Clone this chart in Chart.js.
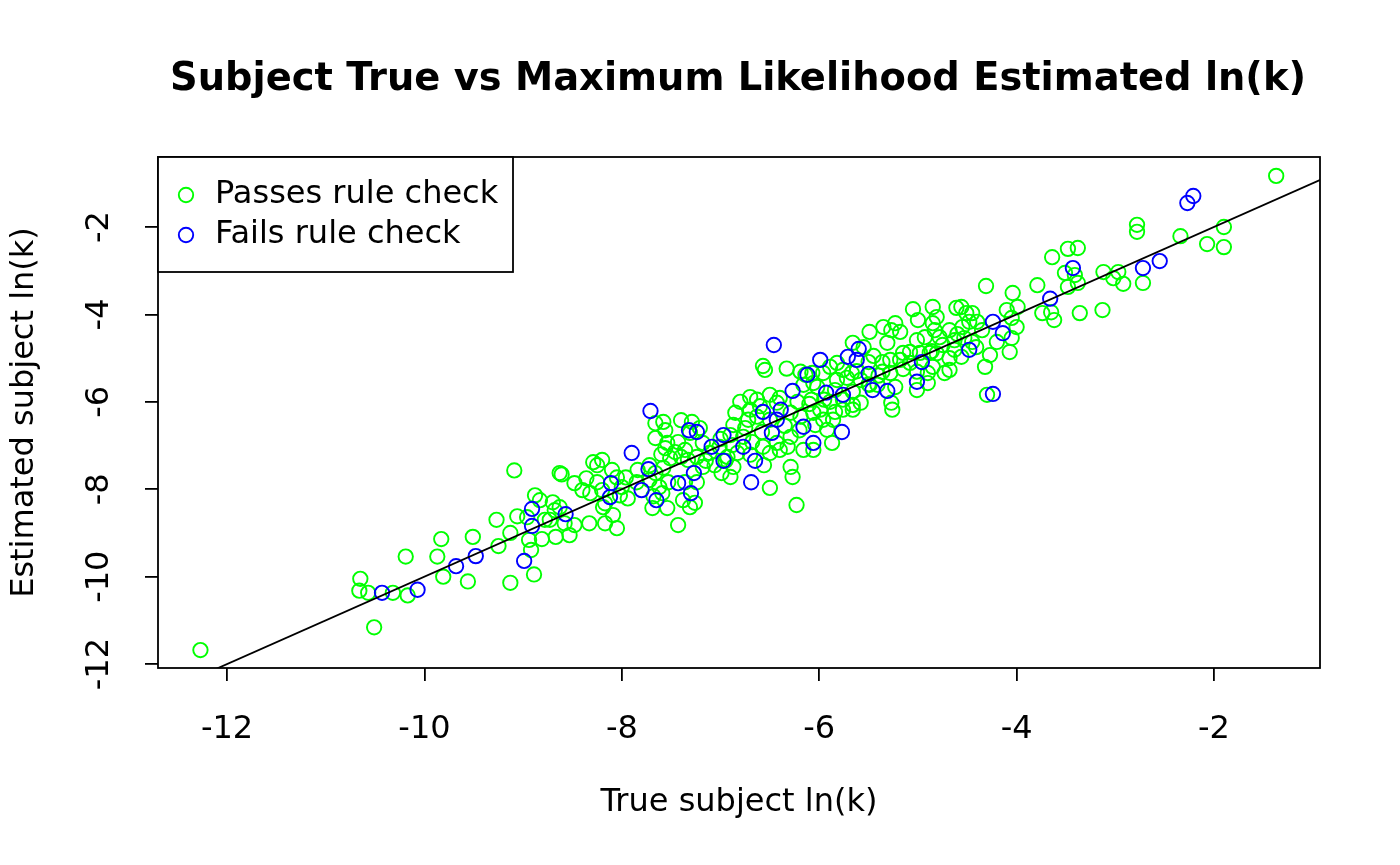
<!DOCTYPE html>
<html>
<head>
<meta charset="utf-8">
<script src="https://cdn.jsdelivr.net/npm/chart.js@4.4.1/dist/chart.umd.min.js"></script>
<style>
  body { margin: 0; background: #fff; }
  canvas { display: block; }
</style>
</head>
<body>
<canvas id="mlChart" width="1400" height="865"></canvas>
<script>
// values (true ln(k) vs estimated ln(k))
const passX = [
  -12.27, -10.65, -10.66, -10.57, -10.51, -10.32, -10.17, -10.19,
  -9.87, -9.83, -9.81, -9.56, -9.51, -9.25, -9.27, -9.13, -9.13, -9.09, -9.06, -8.96, -8.94, -8.92,
  -8.89, -8.88, -8.83, -8.81, -8.78, -8.70, -8.67, -8.63, -8.68, -8.73,
  -7.66, -7.58, -7.56, -7.40, -7.29, -7.31, -7.66, -7.54, -7.56, -7.43, -7.46, -7.36, -7.51, -7.40,
  -7.33, -7.72, -7.84, -7.66, -7.58, -8.20, -8.29, -8.25, -8.10, -7.96, -8.61, -8.48, -8.36, -8.25,
  -8.05, -7.85, -7.72, -7.62, -7.53, -7.36, -7.24, -8.32, -8.40, -8.20, -8.17, -8.02, -7.94, -7.68,
  -7.59, -7.69, -7.54, -7.38, -7.31, -8.63, -8.58, -8.48, -8.33, -8.17, -8.05, -8.09, -8.19, -7.43, -8.53,
  -6.55, -6.14, -6.33, -6.06, -6.16, -6.80, -6.70, -6.63, -6.50, -6.40, -6.43, -6.22, -6.08, -6.70,
  -6.63, -6.72, -6.50, -6.29, -6.19, -6.06, -6.04, -6.58, -6.87, -6.90, -6.77, -6.68, -6.57, -6.43,
  -6.29, -6.32, -6.16, -7.21, -7.18, -7.11, -7.01, -6.88, -6.83, -6.93, -7.06, -6.87, -6.70, -6.50,
  -6.40, -7.24, -7.18, -6.99, -6.90, -6.29, -6.27, -6.50, -7.26, -6.23, -6.56, -6.57, -6.19,
  -5.49, -5.35, -5.27, -5.18, -5.31, -5.01, -4.93, -4.85, -5.08, -5.15, -4.98, -4.88, -5.08, -5.18,
  -5.28, -5.36, -5.66, -5.55, -5.50, -5.82, -5.89, -6.07, -5.96, -5.76, -5.67, -5.36, -5.28, -5.01,
  -4.90, -4.90, -5.82, -5.72, -5.58, -5.41, -5.49, -5.01, -5.23, -6.02, -5.84, -5.66, -5.89, -5.76,
  -5.66, -5.58, -5.27, -5.26, -5.99, -5.84, -5.76, -5.66, -5.96, -5.86, -5.92, -5.87, -6.06,
  -5.05, -5.00, -5.23,
  -4.31, -3.79, -4.04, -3.74, -3.65, -3.62, -3.99, -4.10, -4.05, -4.00, -4.05, -4.20, -4.07, -4.27,
  -4.32, -4.85, -4.81, -4.61, -4.56, -4.51, -4.45, -4.48, -4.40, -4.35, -4.55, -4.68, -4.83, -4.78,
  -4.63, -4.53, -4.45, -4.41, -4.63, -4.56, -4.68, -4.81, -4.85, -4.73, -4.68, -4.86, -4.30,
  -2.78, -2.78, -2.34, -3.48, -3.38, -3.64, -3.51, -3.41, -3.48, -3.38, -3.12, -2.97, -3.02, -2.92,
  -2.72, -3.36, -3.13,
  -1.37, -1.90, -2.07, -1.90,
  // extra points in the crowded middle of the cloud
  -6.60, -6.35, -6.85, -6.20, -5.50, -5.40, -5.15, -4.75, -7.00, -7.15, -5.95, -5.62, -6.10, -4.60,
  -5.45, -6.75, -6.95, -7.60, -8.00
];
const passY = [
  -11.68, -10.05, -10.32, -10.37, -11.16, -10.37, -10.43, -9.54,
  -9.54, -9.14, -10.00, -10.11, -9.09, -9.30, -8.70, -9.00, -10.14, -7.57, -8.62, -8.64, -9.16, -9.39,
  -9.95, -8.14, -8.25, -9.14, -8.70, -8.30, -9.09, -7.63, -8.48, -8.70,
  -6.49, -6.46, -6.65, -6.42, -6.46, -6.71, -6.83, -6.94, -7.06, -6.92, -7.15, -7.10, -7.29, -7.26,
  -7.33, -7.45, -7.56, -7.63, -7.51, -7.33, -7.38, -7.45, -7.56, -7.73, -7.66, -7.86, -7.75, -7.84,
  -7.73, -7.84, -7.79, -7.95, -7.84, -7.84, -7.84, -8.09, -8.02, -8.02, -8.32, -8.14, -8.21, -8.16,
  -8.09, -8.43, -8.43, -8.25, -8.41, -8.41, -8.78, -8.82, -8.78, -8.78, -8.89, -8.59, -8.41, -8.82, -9.05,
  -5.27, -5.38, -5.24, -5.57, -5.61, -6.00, -5.89, -5.95, -5.84, -5.91, -6.02, -6.00, -5.95, -6.18,
  -6.34, -6.41, -6.41, -6.25, -6.34, -6.25, -6.53, -6.69, -6.53, -6.76, -6.80, -6.92, -7.03, -6.94,
  -6.80, -7.03, -7.10, -6.60, -6.94, -7.17, -7.03, -6.99, -7.17, -7.26, -7.45, -7.49, -7.21, -7.17,
  -7.10, -7.26, -7.49, -7.63, -7.72, -7.49, -7.72, -7.97, -8.31, -8.36, -7.45, -5.18, -5.31,
  -4.40, -4.29, -4.36, -4.40, -4.65, -4.59, -4.52, -4.20, -4.86, -4.88, -4.88, -4.88, -5.11, -5.04,
  -5.04, -5.09, -4.65, -4.75, -5.09, -5.11, -5.20, -5.34, -5.34, -5.27, -5.34, -5.31, -5.34, -5.31,
  -5.34, -5.57, -5.50, -5.45, -5.50, -5.61, -5.61, -5.73, -5.66, -5.66, -5.73, -5.77, -6.00, -5.95,
  -6.07, -6.02, -6.02, -6.18, -6.18, -6.23, -6.18, -6.18, -6.41, -6.41, -6.64, -6.94, -7.10,
  -3.88, -4.13, -4.20,
  -3.35, -3.33, -3.51, -3.97, -3.95, -4.13, -3.83, -3.90, -4.08, -4.29, -4.54, -4.63, -4.86, -4.93,
  -5.20, -3.83, -4.06, -3.85, -3.83, -3.97, -3.97, -4.17, -4.17, -4.36, -4.29, -4.36, -4.36, -4.52,
  -4.59, -4.54, -4.63, -4.75, -4.81, -4.97, -5.00, -4.89, -5.20, -5.34, -5.27, -4.84, -5.84,
  -1.95, -2.11, -2.21, -2.50, -2.48, -2.69, -3.05, -3.10, -3.37, -3.28, -3.03, -3.03, -3.17, -3.30,
  -3.28, -3.97, -3.90,
  -0.83, -2.00, -2.39, -2.46,
  -6.10, -6.55, -6.25, -6.65, -5.60, -5.40, -5.25, -4.70, -6.85, -7.35, -5.95, -5.30, -6.05, -4.45,
  -4.95, -6.60, -7.35, -7.20, -7.95
];
const failX = [
  -10.43, -10.07, -9.68, -9.48, -8.99, -8.91, -8.91,
  -7.71, -7.32, -7.24, -7.09, -7.90, -7.73, -7.27, -8.11, -7.80, -7.43, -7.30, -8.12, -7.65, -8.57,
  -6.46, -6.12, -6.27, -6.57, -6.39, -6.43, -6.16, -6.48, -6.97, -6.77, -6.06, -6.97, -6.65, -6.69,
  -5.99, -4.96, -5.60, -5.71, -5.62, -5.50, -5.01, -5.46, -5.31, -5.93, -5.76, -5.77,
  -3.66, -4.24, -4.14, -4.48, -4.24, -3.43, -2.72, -2.55, -2.21, -2.27
];
const failY = [
  -10.37, -10.30, -9.76, -9.53, -9.64, -8.45, -8.84,
  -6.21, -6.65, -6.69, -7.03, -7.17, -7.54, -7.63, -7.86, -8.02, -7.86, -8.09, -8.18, -8.25, -8.57,
  -4.70, -5.38, -5.75, -6.23, -6.18, -6.41, -6.57, -6.71, -6.76, -7.03, -6.94, -7.35, -7.35, -7.84,
  -5.04, -5.09, -4.79, -4.97, -5.04, -5.36, -5.54, -5.73, -5.75, -5.79, -5.84, -6.69,
  -3.64, -4.17, -4.43, -4.81, -5.82, -2.94, -2.94, -2.78, -1.29, -1.45
];
const tickValues = [-12, -10, -8, -6, -4, -2];
const xRange = [-12.70, -0.926];
const yRange = [-12.09, -0.398];
const identityLine = [-13, 0];   // y = x reference line

const FONT = '"DejaVu Sans", "Liberation Sans", sans-serif';
const GREEN = '#00ff00';
const BLUE = '#0000ff';
const PT_R = 7.2;
const PT_W = 1.9;

const decor = {
  id: 'decor',
  afterDraw(chart) {
    const { ctx, chartArea: a, scales } = chart;
    ctx.save();
    ctx.fillStyle = '#000';
    ctx.strokeStyle = '#000';

    // plot box
    ctx.lineWidth = 1.8;
    ctx.strokeRect(a.left, a.top, a.right - a.left, a.bottom - a.top);

    // rotated y tick labels
    ctx.font = '32px ' + FONT;
    ctx.textAlign = 'center';
    ctx.textBaseline = 'middle';
    tickValues.forEach(v => {
      ctx.save();
      ctx.translate(100, scales.y.getPixelForValue(v));
      ctx.rotate(-Math.PI / 2);
      ctx.fillText(String(v), 0, 0);
      ctx.restore();
    });

    // axis titles
    ctx.fillText('True subject ln(k)', (a.left + a.right) / 2, 803);
    ctx.save();
    ctx.translate(25, (a.top + a.bottom) / 2);
    ctx.rotate(-Math.PI / 2);
    ctx.fillText('Estimated subject ln(k)', 0, 0);
    ctx.restore();

    // main title
    ctx.font = 'bold 38.4px ' + FONT;
    ctx.fillText('Subject True vs Maximum Likelihood Estimated ln(k)', 738, 80);

    // legend box
    const lx = a.left, ly = a.top, lw = 355, lh = 115;
    ctx.fillStyle = '#fff';
    ctx.fillRect(lx, ly, lw, lh);
    ctx.lineWidth = 1.8;
    ctx.strokeStyle = '#000';
    ctx.strokeRect(lx, ly, lw, lh);
    const items = [
      { label: 'Passes rule check', color: GREEN, y: ly + 38 },
      { label: 'Fails rule check', color: BLUE, y: ly + 78 }
    ];
    ctx.font = '32px ' + FONT;
    ctx.textAlign = 'left';
    items.forEach(it => {
      ctx.beginPath();
      ctx.lineWidth = PT_W;
      ctx.strokeStyle = it.color;
      ctx.arc(lx + 28, it.y, PT_R, 0, Math.PI * 2);
      ctx.stroke();
      ctx.fillStyle = '#000';
      ctx.fillText(it.label, lx + 57, it.y);
    });
    ctx.restore();
  }
};

function toPoints(xs, ys) {
  return xs.map((x, i) => ({ x: x, y: ys[i] }));
}

const ctx = document.getElementById('mlChart').getContext('2d');

new Chart(ctx, {
  type: 'scatter',
  data: {
    datasets: [
      {
        type: 'line',
        label: 'y = x',
        data: identityLine.map(v => ({ x: v, y: v })),
        borderColor: '#000',
        borderWidth: 1.8,
        pointRadius: 0,
        fill: false,
        order: 0
      },
      {
        label: 'Fails rule check',
        data: toPoints(failX, failY),
        borderColor: BLUE,
        backgroundColor: 'rgba(0,0,0,0)',
        pointRadius: PT_R,
        pointBorderWidth: PT_W,
        order: 1
      },
      {
        label: 'Passes rule check',
        data: toPoints(passX, passY),
        borderColor: GREEN,
        backgroundColor: 'rgba(0,0,0,0)',
        pointRadius: PT_R,
        pointBorderWidth: PT_W,
        order: 2
      }
    ]
  },
  options: {
    responsive: false,
    devicePixelRatio: 1,
    animation: false,
    layout: { padding: { left: 0, right: 80, top: 157, bottom: 0 } },
    plugins: {
      legend: { display: false },
      tooltip: { enabled: false }
    },
    scales: {
      x: {
        type: 'linear',
        min: xRange[0],
        max: xRange[1],
        afterBuildTicks: s => { s.ticks = tickValues.map(v => ({ value: v })); },
        afterFit: s => { s.height = 197; },
        border: { display: false },
        grid: { drawOnChartArea: false, drawTicks: true, tickLength: 13, color: '#000', lineWidth: 1.8 },
        ticks: {
          color: '#000',
          font: { family: FONT, size: 32 },
          padding: 29,
          maxRotation: 0,
          callback: v => String(v)
        }
      },
      y: {
        type: 'linear',
        min: yRange[0],
        max: yRange[1],
        afterBuildTicks: s => { s.ticks = tickValues.map(v => ({ value: v })); },
        afterFit: s => { s.width = 158; },
        border: { display: false },
        grid: { drawOnChartArea: false, drawTicks: true, tickLength: 13, color: '#000', lineWidth: 1.8 },
        ticks: { display: false }
      }
    }
  },
  plugins: [decor]
});
</script>
</body>
</html>
